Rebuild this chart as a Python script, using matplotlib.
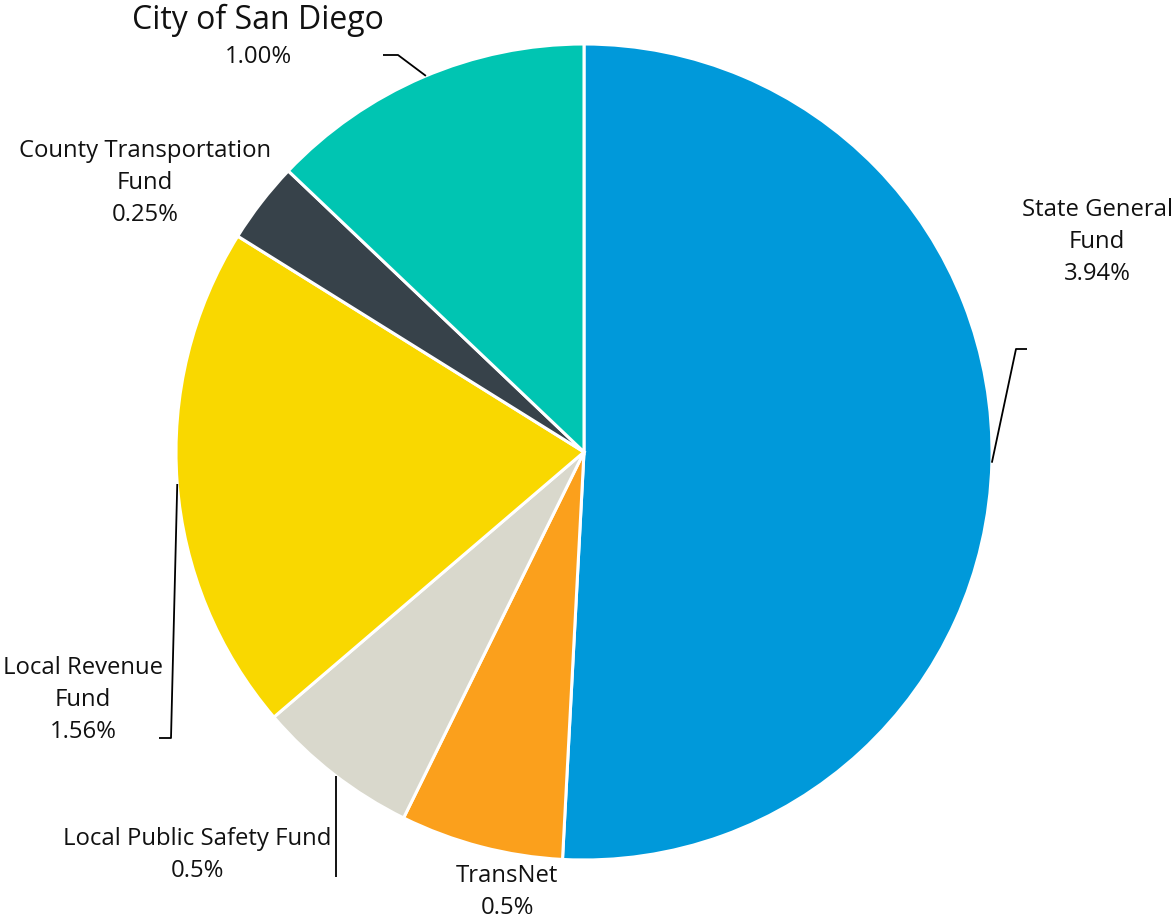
import numpy as np
import matplotlib.pyplot as plt

plt.rcParams['font.family'] = ['Open Sans', 'DejaVu Sans']

# data
names = ['State General Fund', 'TransNet', 'Local Public Safety Fund',
         'Local Revenue Fund', 'County Transportation Fund', 'City of San Diego']
values = [3.94, 0.5, 0.5, 1.56, 0.25, 1.00]
pct_text = ['3.94%', '0.5%', '0.5%', '1.56%', '0.25%', '1.00%']
colors = ['#0099DA', '#FBA01C', '#D9D8CC', '#F9D800', '#37424A', '#00C5B2']

W, H = 1172, 918
fig = plt.figure(figsize=(W / 100, H / 100), dpi=100)
ax = fig.add_axes([0, 0, 1, 1])

cx, cy, r = 584, H - 452, 408
wedges, _ = ax.pie(values, colors=colors, startangle=90, counterclock=False,
                   center=(cx, cy), radius=r,
                   wedgeprops=dict(edgecolor='white', linewidth=2.2))
ax.set_xlim(0, W)
ax.set_ylim(0, H)
ax.set_aspect('equal')
ax.axis('off')

fs = 17.2
ls = 1.43
txt = dict(ha='center', va='center', fontsize=fs, color='#111111')


def Y(y):
    return H - y


# labels (positions in pixel space, top-left origin)
ax.text(1097, Y(242), 'State General\nFund\n' + pct_text[0], linespacing=ls, **txt)
ax.text(507, Y(892), 'TransNet\n' + pct_text[1], linespacing=ls, **txt)
ax.text(197, Y(855), 'Local Public Safety Fund\n' + pct_text[2], linespacing=ls, **txt)
ax.text(83, Y(700), 'Local Revenue\nFund\n' + pct_text[3], linespacing=ls, **txt)
ax.text(145, Y(183), 'County Transportation\nFund\n' + pct_text[4], linespacing=ls, **txt)
ax.text(258, Y(20), names[5], ha='center', va='center', fontsize=23, color='#111111')
ax.text(258, Y(57), pct_text[5], **txt)


# leader lines: end on the wedge edge at a given angle
def edge(ang):
    a = np.deg2rad(ang)
    return cx + r * np.cos(a), cy + r * np.sin(a)


lk = dict(color='black', lw=1.3, solid_capstyle='butt')
ex, ey = edge(112.8)
ax.plot([383, 398, ex], [Y(55), Y(55), ey], **lk)
ex, ey = edge(-1.5)
ax.plot([1027, 1016, ex], [Y(349), Y(349), ey], **lk)
ex, ey = edge(184.5)
ax.plot([159, 171, ex], [Y(738), Y(738), ey], **lk)
ex, ey = edge(232.6)
ax.plot([ex, ex], [ey, Y(877)], **lk)

fig.savefig('out.png', dpi=100)
